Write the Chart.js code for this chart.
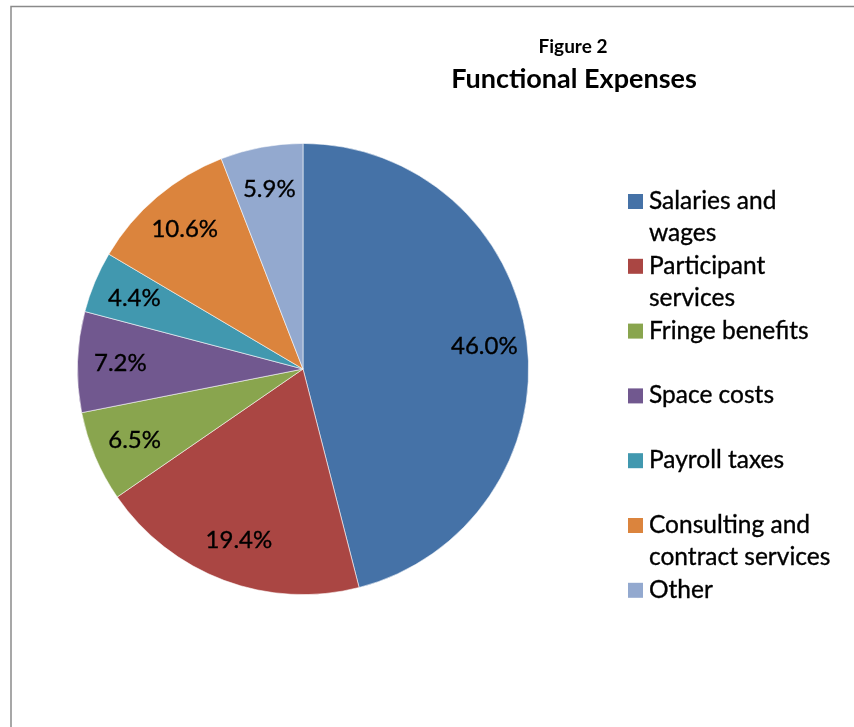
<!DOCTYPE html>
<html>
<head>
<meta charset="utf-8">
<script src="https://cdn.jsdelivr.net/npm/chart.js@4"></script>
<style>
  html, body { margin: 0; padding: 0; background: #fff; }
  #wrap { width: 854px; height: 727px; position: relative; }
</style>
</head>
<body>
<div id="wrap"><canvas id="expenseChart" width="854" height="727"></canvas></div>
<script>
const categories = [
  'Salaries and wages',
  'Participant services',
  'Fringe benefits',
  'Space costs',
  'Payroll taxes',
  'Consulting and contract services',
  'Other'
];
// legend lines as they wrap in the picture
const legendLines = [
  ['Salaries and', 'wages'],
  ['Participant', 'services'],
  ['Fringe benefits'],
  ['Space costs'],
  ['Payroll taxes'],
  ['Consulting and', 'contract services'],
  ['Other']
];
const shares = [46.0, 19.4, 6.5, 7.2, 4.4, 10.6, 5.9];
const sliceColors = ['#4572A7', '#AA4643', '#89A54E', '#71588F', '#4198AF', '#DB843D', '#93A9CF'];

const fontFamily = 'Lato, "Open Sans", sans-serif';

// text a touch heavier, the source font is darker than Lato regular
function heavyText(ctx, t, x, y) {
  ctx.fillText(t, x, y);
  ctx.strokeText(t, x, y);
}

const frame = {
  id: 'frame',
  beforeDraw(chart) {
    const ctx = chart.ctx;
    ctx.save();
    ctx.strokeStyle = '#8a8a8a';
    ctx.lineWidth = 1.5;
    ctx.beginPath();
    ctx.moveTo(11, 760);
    ctx.lineTo(11, 6.5);
    ctx.lineTo(900, 6.5);
    ctx.stroke();

    // titles
    ctx.fillStyle = '#000';
    ctx.textAlign = 'center';
    ctx.textBaseline = 'middle';
    ctx.font = 'bold 19px ' + fontFamily;
    ctx.fillText('Figure 2', 573, 47);
    ctx.font = 'bold 27px ' + fontFamily;
    ctx.fillText('Functional Expenses', 574, 79);
    ctx.restore();
  }
};

const sliceLabels = {
  id: 'sliceLabels',
  afterDatasetsDraw(chart) {
    const ctx = chart.ctx;
    const meta = chart.getDatasetMeta(0);
    ctx.save();
    ctx.fillStyle = '#000';
    ctx.strokeStyle = '#000';
    ctx.lineWidth = 0.35;
    ctx.font = '24px ' + fontFamily;
    ctx.textAlign = 'center';
    ctx.textBaseline = 'middle';
    meta.data.forEach((arc, i) => {
      const mid = (arc.startAngle + arc.endAngle) / 2;
      const r = arc.outerRadius * 0.81;
      heavyText(ctx, shares[i].toFixed(1) + '%', arc.x + Math.cos(mid) * r, arc.y + Math.sin(mid) * r);
    });
    ctx.restore();
  }
};

const sideLegend = {
  id: 'sideLegend',
  afterDraw(chart) {
    const ctx = chart.ctx;
    ctx.save();
    ctx.font = '24.5px ' + fontFamily;
    ctx.textAlign = 'left';
    ctx.textBaseline = 'middle';
    ctx.strokeStyle = '#000';
    ctx.lineWidth = 0.35;
    legendLines.forEach((lines, i) => {
      const y = 201 + i * 64.8;
      ctx.fillStyle = sliceColors[i];
      ctx.fillRect(628, y - 7, 15, 15);
      ctx.fillStyle = '#000';
      lines.forEach((t, j) => heavyText(ctx, t, 649, y + j * 32));
    });
    ctx.restore();
  }
};

new Chart(document.getElementById('expenseChart'), {
  type: 'pie',
  data: {
    labels: categories,
    datasets: [{
      data: shares,
      backgroundColor: sliceColors,
      borderColor: 'rgba(255,255,255,0.7)',
      borderWidth: 0.8
    }]
  },
  options: {
    responsive: false,
    animation: false,
    layout: { padding: { left: 77, right: 325, top: 143, bottom: 132 } },
    plugins: {
      legend: { display: false },
      tooltip: { enabled: false }
    }
  },
  plugins: [frame, sliceLabels, sideLegend]
});
</script>
</body>
</html>
